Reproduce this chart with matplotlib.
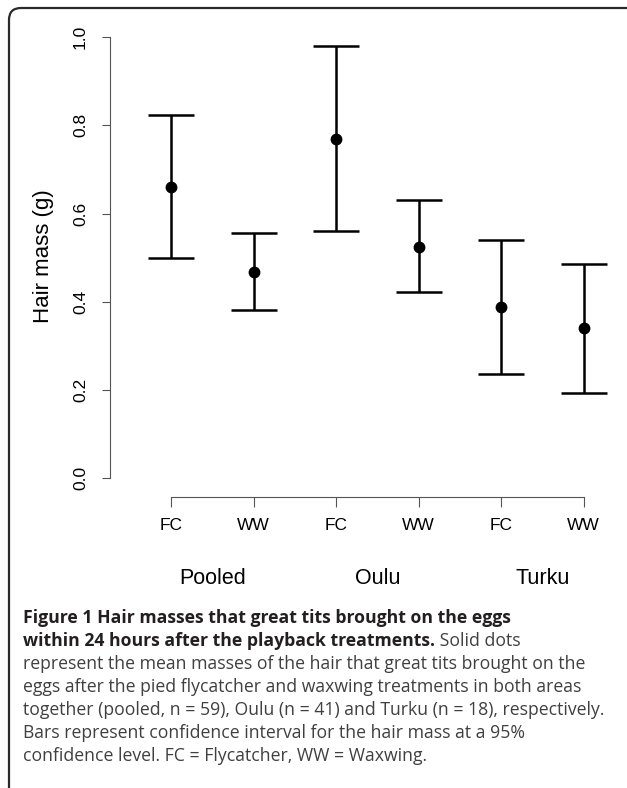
import numpy as np
import matplotlib.pyplot as plt
from matplotlib.patches import FancyBboxPatch
from matplotlib.transforms import IdentityTransform, blended_transform_factory

# values
treatments = ['FC', 'WW', 'FC', 'WW', 'FC', 'WW']
areas = ['Pooled', 'Oulu', 'Turku']
means = np.array([0.660, 0.468, 0.768, 0.525, 0.388, 0.340])
upper = np.array([0.824, 0.555, 0.980, 0.630, 0.540, 0.486])
lower = np.array([0.500, 0.382, 0.560, 0.423, 0.236, 0.194])
yticks = [0.0, 0.2, 0.4, 0.6, 0.8, 1.0]

W, H = 627, 788
fig = plt.figure(figsize=(W / 100, H / 100), dpi=100)

def fx(px):
    return px / W

def fy(py):
    return 1 - py / H

# frame round the whole figure
frame = FancyBboxPatch((9, -20), 640, H - 8 + 20,
                       boxstyle='round,pad=0,rounding_size=12',
                       transform=IdentityTransform(), fill=False,
                       edgecolor='#2a2a2a', linewidth=1.6)
fig.patches.append(frame)

plt.rcParams['font.family'] = ['Liberation Sans', 'DejaVu Sans']

# plot area
ax = fig.add_axes([fx(110), fy(478.3), (625 - 110) / W, (478.3 - 37) / H])
x = np.arange(1, len(means) + 1)
ax.set_xlim(1 - 61 / 82.5, 1 + 454 / 82.5)
ax.set_ylim(0, 1)

ax.errorbar(x, means, yerr=[means - lower, upper - means], fmt='o',
            color='black', ms=7.5, elinewidth=1.8, capsize=16.9,
            capthick=1.8, clip_on=False)

for s in ['top', 'right']:
    ax.spines[s].set_visible(False)
ax.spines['left'].set_bounds(0, 1)
ax.spines['bottom'].set_bounds(1, 6)
ax.spines['bottom'].set_position(('outward', 13.2))
for s in ['left', 'bottom']:
    ax.spines[s].set_color('#555555')
    ax.spines[s].set_linewidth(0.8)

ax.set_yticks(yticks)
ax.set_yticklabels(['%.1f' % v for v in yticks], rotation=90, va='center')
ax.set_xticks(x)
ax.set_xticklabels(treatments)
ax.tick_params(axis='y', length=5.8, width=0.8, color='#555555', pad=10,
               labelsize=12.5)
ax.tick_params(axis='x', length=7.2, width=0.8, color='#555555', pad=8,
               labelsize=12.5)

tr = blended_transform_factory(ax.transData, fig.transFigure)
for i, name in enumerate(areas):
    ax.text(x[2 * i:2 * i + 2].mean(), fy(578), name, transform=tr,
            ha='center', va='center', fontsize=15.5)

fig.text(fx(43), fy(256.5), 'Hair mass (g)', rotation=90, ha='center',
         va='center', fontsize=16)

# caption
cap_font = 'Open Sans'
cap_size = 12.7
bold_col = '#231f20'
reg_col = '#404040'
lines = [
    ('Figure 1 Hair masses that great tits brought on the eggs', ''),
    ('within 24 hours after the playback treatments.', ' Solid dots'),
    ('', 'represent the mean masses of the hair that great tits brought on the'),
    ('', 'eggs after the pied flycatcher and waxwing treatments in both areas'),
    ('', 'together (pooled, n = 59), Oulu (n = 41) and Turku (n = 18), respectively.'),
    ('', 'Bars represent confidence interval for the hair mass at a 95%'),
    ('', 'confidence level. FC = Flycatcher, WW = Waxwing.'),
]
for i, (b, r) in enumerate(lines):
    yb = fy(623 + 23 * i)
    if b:
        t = fig.text(fx(23), yb, b, family=cap_font, fontsize=cap_size,
                     fontweight='bold', color=bold_col, va='baseline')
        if r:
            ax.annotate(r, xy=(1, 0), xycoords=t, ha='left', va='bottom',
                        family=cap_font, fontsize=cap_size, color=reg_col,
                        annotation_clip=False)
    else:
        fig.text(fx(23), yb, r, family=cap_font, fontsize=cap_size,
                 color=reg_col, va='baseline')

fig.savefig('out.png', dpi=100)
